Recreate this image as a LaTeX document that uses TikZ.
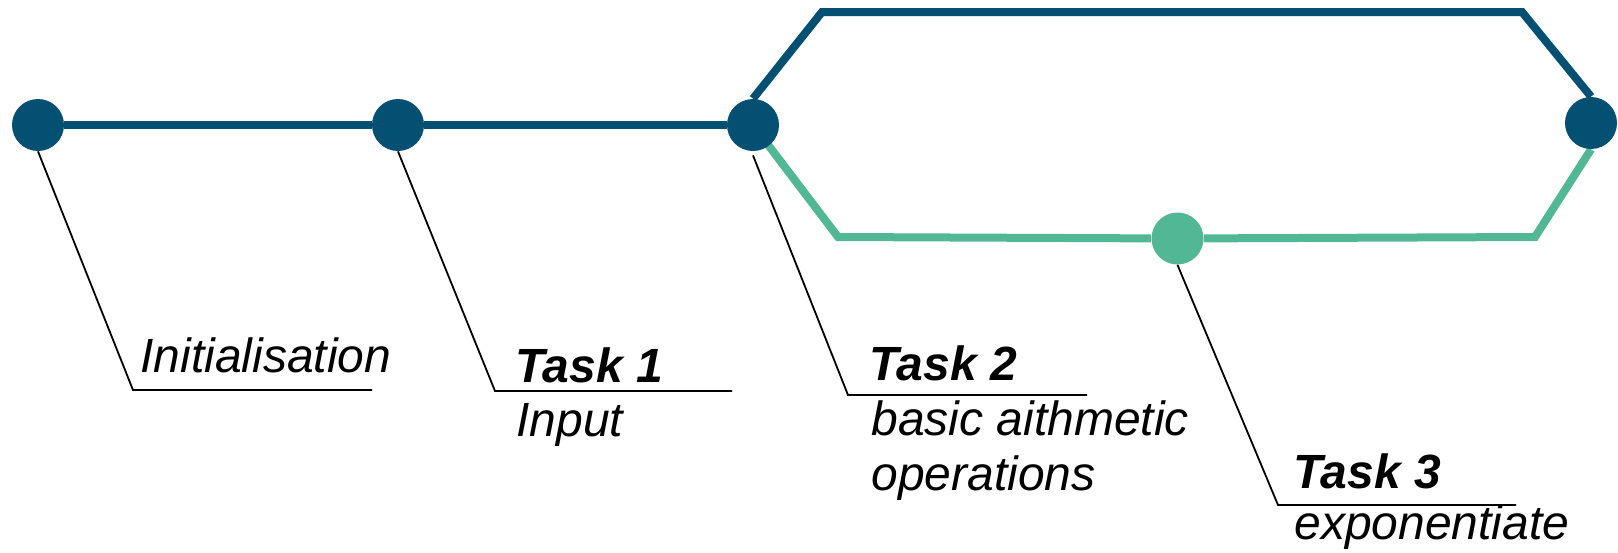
\documentclass[tikz,border=0pt]{standalone}
\usepackage{fontspec}
\setmainfont{Liberation Sans}
\usepackage{xcolor}
\usepackage{tikz}
\usetikzlibrary{positioning,backgrounds}
\definecolor{StopBlue}{RGB}{3,80,114}
\definecolor{StopGreen}{RGB}{82,183,149}
\tikzset{
  stop/.style={circle,fill=StopBlue,minimum size=26pt,inner sep=0pt},
  gstop/.style={stop,fill=StopGreen},
  track/.style={line width=4pt,StopBlue,line join=miter},
  gtrack/.style={track,StopGreen},
  lead/.style={line width=0.9pt,black},
  lbl/.style={anchor=base west,inner sep=0pt,font=\fontsize{24}{28}\selectfont\itshape},
  tlbl/.style={lbl,font=\fontsize{24}{28}\selectfont\bfseries\itshape},
}

\begin{document}
\begin{tikzpicture}[x=0.5pt,y=-0.5pt]
  \useasboundingbox (0,0) rectangle (1618,552);
  % stations
  \node[stop] (s0) at (38,125) {};
  \node[stop] (s1) at (398,125) {};
  \node[stop] (s2) at (753,125) {};
  \node[stop] (s3) at (1591,123) {};
  \node[gstop] (g) at (1177.5,238.5) {};
  \coordinate (tl) at (822,12);
  \coordinate (tr) at (1522,12);
  \coordinate (bl) at (838,237);
  \coordinate (br) at (1535,237);
  \begin{scope}[on background layer]
    \draw[track] (s0) -- (s1) -- (s2);
    \draw[track] (s2.north) -- (tl) -- (tr) -- (s3.north);
    \draw[gtrack] (s2.center) -- (bl) -- (g) -- (br) -- (s3.south);
  \end{scope}
  % labels
  \node[lbl] (n0) at (140,372) {Initialisation};
  \node[tlbl] (t1) at (515,382) {Task 1};
  \node[lbl] (d1) at (516,436) {Input};
  \node[tlbl] (t2) at (869,380) {Task 2};
  \node[lbl] (d2a) at (871,435) {basic aithmetic};
  \node[lbl] (d2b) at (871,490) {operations};
  \node[tlbl] (t3) at (1293,488) {Task 3};
  \node[lbl] (d3) at (1294,539) {exponentiate};
  % leader lines
  \coordinate (k0) at (133,390);  \coordinate (k0e) at (372,390);
  \coordinate (k1) at (495,391);  \coordinate (k1e) at (732,391);
  \coordinate (k2) at (848,395);  \coordinate (k2e) at (1087,395);
  \coordinate (k3) at (1278,505); \coordinate (k3e) at (1516,505);
  \draw[lead] (s0.south) -- (k0) -- (k0e);
  \draw[lead] (s1.south) -- (k1) -- (k1e);
  \draw[lead] ([yshift=-2pt]s2.south) -- (k2) -- (k2e);
  \draw[lead] (g.south) -- (k3) -- (k3e);
\end{tikzpicture}
\end{document}
